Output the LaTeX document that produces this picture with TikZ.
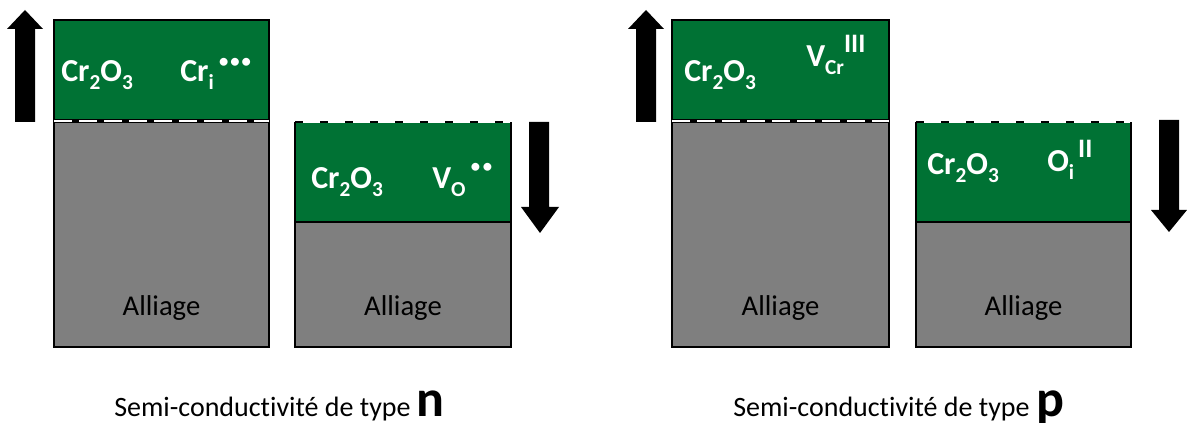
\documentclass[tikz,border=0pt]{standalone}
\usepackage{fontspec}
\setmainfont[Ligatures=NoCommon]{Carlito}
\definecolor{oxgreen}{RGB}{0,114,52}
\definecolor{alloygray}{RGB}{127,127,127}
\newcommand\dnx[1]{\raisebox{-6pt}{\fontsize{16}{16}\selectfont #1}}
\newcommand\upx[2]{\raisebox{#1}{\fontsize{20}{20}\selectfont #2}}
\newcommand\kvdots[2]{\raisebox{#1}{\fontsize{14}{14}\selectfont #2}}
\begin{document}
\begin{tikzpicture}[x=0.75pt,y=-0.75pt,
  lab/.style={text=white,font=\bfseries\fontsize{24}{24}\selectfont,anchor=base west,inner sep=0pt},
  alloy/.style={text=black,font=\fontsize{21.5}{21.5}\selectfont,anchor=base,inner sep=0pt},
  captext/.style={text=black,font=\fontsize{21}{21}\selectfont,anchor=base west,inner sep=0pt},
  oxide/.style={fill=oxgreen},
  metal/.style={fill=alloygray},
  edge/.style={draw=black,line width=1.6pt},
  blockarrow/.style={fill=black}]
\useasboundingbox (0,0) rectangle (1187,423);

% ---------- n type ----------
\fill[oxide] (54,20) rectangle (269,121);
\fill[metal] (54,121) rectangle (269,347);
\draw[edge] (54,121) -- (54,20) -- (269,20) -- (269,347) -- (54,347) -- cycle;
\draw[black,line width=2.4pt] (54,121) -- (269,121);
\draw[white,line width=1.3pt,dash pattern=on 13.5pt off 5.25pt] (54,121) -- (269,121);
\fill[oxide] (295,123) rectangle (511,222);
\fill[metal] (295,222) rectangle (511,347);
\draw[edge] (295,122) -- (295,347) -- (511,347) -- (511,122);
\draw[edge] (295,222) -- (511,222);
\draw[black,line width=1.6pt,dash pattern=on 6pt off 12.75pt] (295,122) -- (511,122);
\fill[blockarrow] (25,10) -- (43,29) -- (35,29) -- (35,122) -- (15,122) -- (15,29) -- (7,29) -- cycle;
\fill[blockarrow] (540,233) -- (559,207) -- (549,207) -- (549,122) -- (529,122) -- (529,207) -- (521,207) -- cycle;
\node[lab] (l1a) at (61,82) {Cr\dnx{2}O\dnx{3}};
\node[lab] (l1b) at (180,82) {Cr\dnx{i}\hspace{4pt}\kvdots{11pt}{•\hspace{1.5pt}•\hspace{1.5pt}•}};
\node[lab] (l2a) at (311,189) {Cr\dnx{2}O\dnx{3}};
\node[lab] (l2b) at (432,189) {V\dnx{O}\hspace{4pt}\kvdots{12.5pt}{•\hspace{2pt}•}};
\node[alloy] (a1) at (161.5,316) {Alliage};
\node[alloy] (a2) at (403,316) {Alliage};
\node[captext] (capn) at (114,416) {Semi-conductivité de type \textbf{\fontsize{39}{39}\selectfont n}};

% ---------- p type ----------
\fill[oxide] (672,20) rectangle (889,121);
\fill[metal] (672,121) rectangle (889,347);
\draw[edge] (672,121) -- (672,20) -- (889,20) -- (889,347) -- (672,347) -- cycle;
\draw[black,line width=2.4pt] (672,121) -- (889,121);
\draw[white,line width=1.3pt,dash pattern=on 13.5pt off 5.25pt] (672,121) -- (889,121);
\fill[oxide] (916,123) rectangle (1131,222);
\fill[metal] (916,222) rectangle (1131,347);
\draw[edge] (916,122) -- (916,347) -- (1131,347) -- (1131,122);
\draw[edge] (916,222) -- (1131,222);
\draw[black,line width=1.6pt,dash pattern=on 6pt off 12.75pt] (916,122) -- (1131,122);
\fill[blockarrow] (646,10) -- (664,29) -- (656,29) -- (656,122) -- (636,122) -- (636,29) -- (628,29) -- cycle;
\fill[blockarrow] (1169,232) -- (1187,210) -- (1179,210) -- (1179,120) -- (1159,120) -- (1159,210) -- (1151,210) -- cycle;
\node[lab] (r1a) at (684,82) {Cr\dnx{2}O\dnx{3}};
\node[lab] (r1b) at (806,67) {V\dnx{Cr}\upx{11pt}{III}};
\node[lab] (r2a) at (927,175) {Cr\dnx{2}O\dnx{3}};
\node[lab] (r2b) at (1047,172) {O\dnx{i}\hspace{3pt}\upx{11pt}{II}};
\node[alloy] (a3) at (780.5,316) {Alliage};
\node[alloy] (a4) at (1023.5,316) {Alliage};
\node[captext] (capp) at (733,416) {Semi-conductivité de type \textbf{\fontsize{39}{39}\selectfont p}};
\end{tikzpicture}
\end{document}
